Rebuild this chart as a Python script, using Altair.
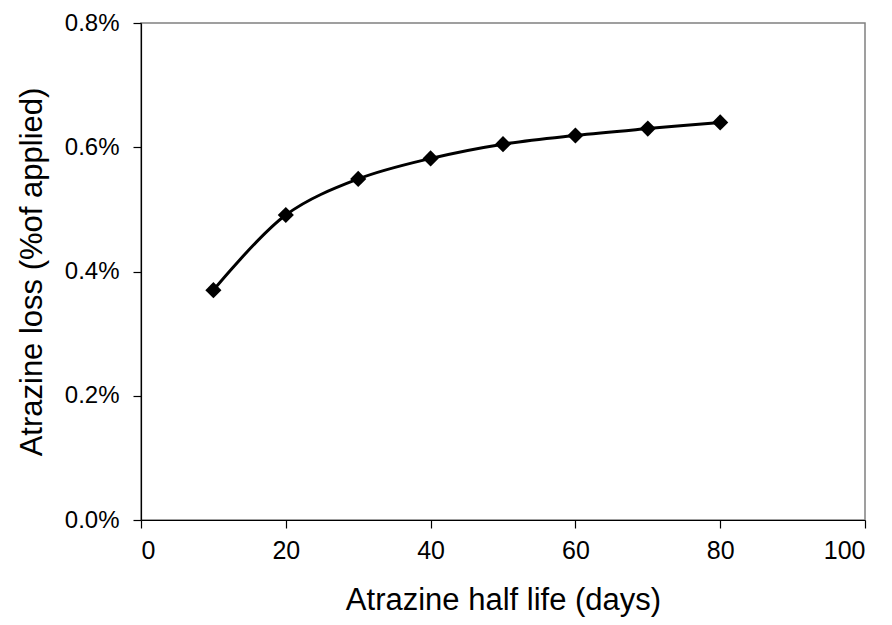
import altair as alt
import pandas as pd

half_life = [10, 20, 30, 40, 50, 60, 70, 80]
loss = [0.00370, 0.00491, 0.00549, 0.00582, 0.00605, 0.00619, 0.00630, 0.00640]

df = pd.DataFrame({"half_life": half_life, "loss": loss})

FONT = "Liberation Sans"

x = alt.X("half_life:Q", title="Atrazine half life (days)",
          scale=alt.Scale(domain=[0, 100], nice=False),
          axis=alt.Axis(values=[0, 20, 40, 60, 80, 100], grid=False,
                        labelPadding=10, titlePadding=22, labelFontSize=25))
y = alt.Y("loss:Q", title="Atrazine loss (%of applied)",
          scale=alt.Scale(domain=[0, 0.008], nice=False),
          axis=alt.Axis(values=[0, 0.002, 0.004, 0.006, 0.008], format=".1%",
                        grid=False, labelPadding=14, titlePadding=16,
                        labelFontSize=24))

line = alt.Chart(df).mark_line(color="black", strokeWidth=3,
                                interpolate="catmull-rom").encode(x=x, y=y)
pts = alt.Chart(df).mark_point(shape="diamond", filled=True, color="black",
                               opacity=1, size=260).encode(x=x, y=y)

chart = (line + pts).properties(
    width=724, height=497,
    autosize=alt.AutoSizeParams(type="none"),
    padding={"left": 133, "top": 15, "right": 18, "bottom": 97},
).configure_view(
    stroke="#808080", strokeWidth=1.5
).configure_axis(
    domainColor="black", tickColor="black", tickSize=8, domainWidth=1.2,
    tickWidth=1.2, labelFont=FONT, titleFont=FONT,
    titleFontSize=31, titleFontWeight="normal", labelColor="black",
    titleColor="black"
)

chart.save("out.html", embed_options={"renderer": "svg", "actions": False})
